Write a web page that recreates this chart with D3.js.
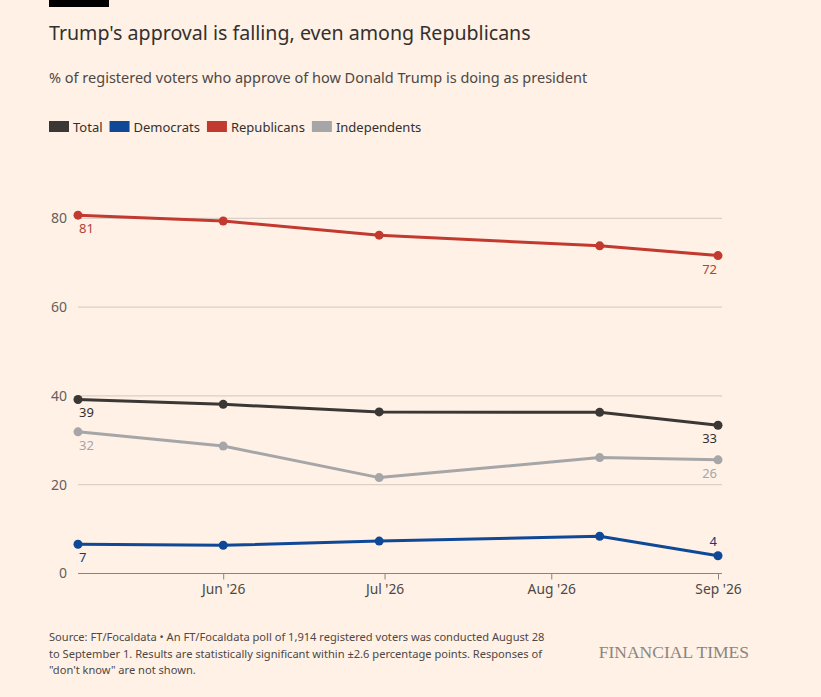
<!DOCTYPE html>
<html>
<head>
<meta charset="utf-8">
<script src="https://cdn.jsdelivr.net/npm/d3@7"></script>
<style>
  body { margin: 0; background: #fff1e5; }
  svg { display: block; font-family: "Noto Sans", sans-serif; }
</style>
</head>
<body>
<div id="chart"></div>
<script>
// data
const dates = ["2026-05-05", "2026-06-01", "2026-06-30", "2026-08-10", "2026-09-01"];
const seriesNames = ["Total", "Democrats", "Republicans", "Independents"];
const total = [39.2, 38.1, 36.4, 36.3, 33.4];
const democrats = [6.6, 6.35, 7.3, 8.4, 4.0];
const republicans = [80.7, 79.4, 76.2, 73.8, 71.6];
const independents = [31.9, 28.7, 21.6, 26.1, 25.6];
const yTicks = [0, 20, 40, 60, 80];
const xTicks = ["2026-06-01", "2026-07-01", "2026-08-01", "2026-09-01"];

const parse = d3.timeParse("%Y-%m-%d");
const colors = {
  Total: "#3a3735",
  Democrats: "#0f4896",
  Republicans: "#c2392f",
  Independents: "#a6a6a8"
};
const labelColors = {
  Total: "#33302e",
  Democrats: "#0f3c7a",
  Republicans: "#b0443a",
  Independents: "#a6a6a8"
};

const series = [
  { name: "Total", values: total },
  { name: "Democrats", values: democrats },
  { name: "Republicans", values: republicans },
  { name: "Independents", values: independents }
];

const W = 821, H = 697;
const svg = d3.select("#chart").append("svg")
  .attr("width", W).attr("height", H);

svg.append("rect").attr("width", W).attr("height", H).attr("fill", "#fff1e5");

// top bar
svg.append("rect").attr("x", 49).attr("y", 0).attr("width", 60).attr("height", 7).attr("fill", "#000");

// title + subtitle
svg.append("text").attr("x", 49).attr("y", 40)
  .attr("font-size", 19.6).attr("fill", "#33302e")
  .text("Trump's approval is falling, even among Republicans");
svg.append("text").attr("x", 49).attr("y", 83)
  .attr("font-size", 14.5).attr("fill", "#4d4845")
  .text("% of registered voters who approve of how Donald Trump is doing as president");

// legend
let lx = 49;
seriesNames.forEach(name => {
  svg.append("rect").attr("x", lx).attr("y", 121).attr("width", 20).attr("height", 11)
    .attr("fill", colors[name]);
  const t = svg.append("text").attr("x", lx + 24).attr("y", 132)
    .attr("font-size", 13).attr("fill", "#33302e").text(name);
  lx += 24 + t.node().getComputedTextLength() + 7;
});

// scales
const x = d3.scaleTime()
  .domain([parse(dates[0]), parse(dates[dates.length - 1])])
  .range([78, 718]);
const y = d3.scaleLinear().domain([0, 80]).range([573.5, 218.3]);

// grid
const grid = svg.append("g");
grid.selectAll("line").data(yTicks.filter(d => d > 0)).enter().append("line")
  .attr("x1", 78).attr("x2", 722)
  .attr("y1", d => y(d)).attr("y2", d => y(d))
  .attr("stroke", "#d3c8bd").attr("stroke-width", 1);

// y labels
svg.append("g").selectAll("text").data(yTicks).enter().append("text")
  .attr("x", 67).attr("y", d => y(d)).attr("dy", "0.35em")
  .attr("text-anchor", "end").attr("font-size", 14).attr("fill", "#66605c")
  .text(d => d);

// x axis
const xAxis = d3.axisBottom(x)
  .tickValues(xTicks.map(parse))
  .tickFormat(d3.timeFormat("%b '%y"))
  .tickSize(6).tickPadding(5);
const gx = svg.append("g").attr("transform", `translate(0,${y(0)})`).call(xAxis);
gx.select(".domain").remove();
gx.selectAll(".tick line").attr("stroke", "#8a837e");
gx.selectAll(".tick text").attr("font-size", 13.8).attr("fill", "#4d4845")
  .attr("font-family", "Noto Sans, sans-serif");
svg.append("line").attr("x1", 78).attr("x2", 722)
  .attr("y1", y(0)).attr("y2", y(0)).attr("stroke", "#8a837e");

// lines
const line = d3.line()
  .x((d, i) => x(parse(dates[i])))
  .y(d => y(d));

const lineOrder = ["Independents", "Democrats", "Total", "Republicans"];
lineOrder.forEach(name => {
  const s = series.find(s => s.name === name);
  const g = svg.append("g");
  g.append("path").datum(s.values).attr("d", line)
    .attr("fill", "none").attr("stroke", colors[name]).attr("stroke-width", 3)
    .attr("stroke-linejoin", "round");
  g.selectAll("circle").data(s.values).enter().append("circle")
    .attr("cx", (d, i) => x(parse(dates[i])))
    .attr("cy", d => y(d))
    .attr("r", 4.5).attr("fill", colors[name]);
});

// end labels
series.forEach(s => {
  const n = s.values.length;
  const first = s.values[0], last = s.values[n - 1];
  svg.append("text")
    .attr("x", x(parse(dates[0])) + 1)
    .attr("y", y(first) + 18)
    .attr("font-size", 13).attr("fill", labelColors[s.name])
    .text(Math.round(first));
  const above = s.name === "Democrats";
  svg.append("text")
    .attr("x", x(parse(dates[n - 1])) - 1)
    .attr("y", above ? y(last) - 10 : y(last) + 18)
    .attr("text-anchor", "end")
    .attr("font-size", 13).attr("fill", labelColors[s.name])
    .text(Math.round(last));
});

// footer
const src = svg.append("text").attr("font-size", 11.1).attr("fill", "#4d4845");
["Source: FT/Focaldata \u2022 An FT/Focaldata poll of 1,914 registered voters was conducted August 28",
 "to September 1. Results are statistically significant within \u00b12.6 percentage points. Responses of",
 "\"don't know\" are not shown."].forEach((t, i) => {
  src.append("tspan").attr("x", 49).attr("y", 641 + i * 16.5).text(t);
});
svg.append("text").attr("x", 749).attr("y", 658).attr("text-anchor", "end")
  .attr("font-family", "Liberation Serif, serif").attr("font-size", 17.5)
  .attr("fill", "#8a8580").text("FINANCIAL TIMES");
</script>
</body>
</html>
